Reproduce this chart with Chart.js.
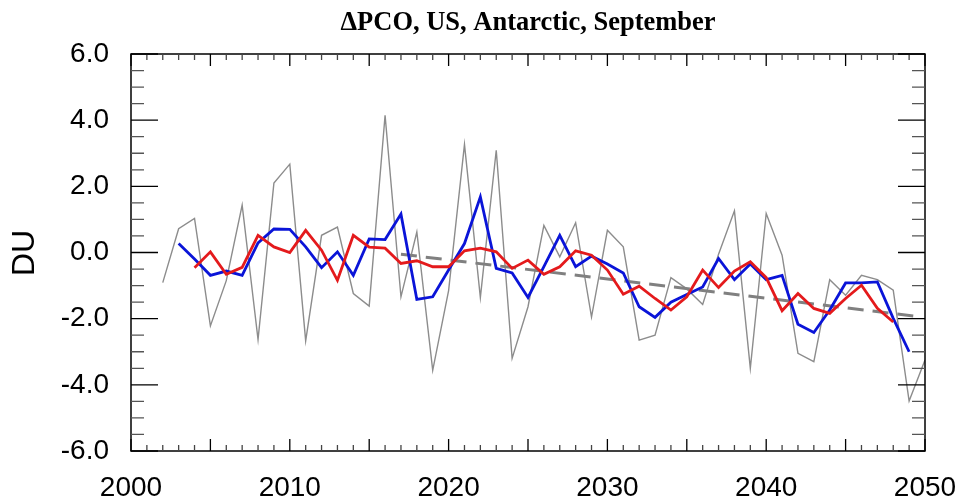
<!DOCTYPE html>
<html>
<head>
<meta charset="utf-8">
<script src="https://cdn.jsdelivr.net/npm/chart.js@4"></script>
<style>
  html, body { margin: 0; padding: 0; background: #fff; }
  #wrap { width: 962px; height: 497px; }
</style>
</head>
<body>
<div id="wrap"><canvas id="grafico"></canvas></div>
<script>
// annual values (gray), 3-year mean (blue), 5-year mean (red), linear trend (dashed)
const anos = [];
for (let a = 2002; a <= 2050; a++) anos.push(a);

const anual = [-0.91, 0.72, 1.03, -2.22, -0.85, 1.43, -2.63, 2.10, 2.67, -2.67,
  0.52, 0.77, -1.24, -1.62, 4.15, -1.34, 0.62, -3.56, -1.15, 3.27,
  -1.36, 3.09, -3.20, -1.64, 0.82, -0.13, 0.90, -1.95, 0.67, 0.17,
  -2.65, -2.50, -0.76, -1.10, -1.57, -0.05, 1.26, -3.50, 1.18, -0.08,
  -3.05, -3.30, -0.82, -1.29, -0.69, -0.82, -1.14, -4.49, -3.25];

const anosMedia3 = anos.slice(1, -1);            // 2003..2049
const media3 = [0.27, -0.20, -0.69, -0.56, -0.69, 0.29, 0.71, 0.70, 0.17, -0.46,
  0.02, -0.69, 0.41, 0.39, 1.16, -1.42, -1.34, -0.53, 0.27, 1.68,
  -0.48, -0.62, -1.36, -0.43, 0.52, -0.43, -0.11, -0.35, -0.62, -1.64,
  -1.96, -1.50, -1.27, -1.04, -0.18, -0.82, -0.35, -0.82, -0.69, -2.17,
  -2.42, -1.74, -0.92, -0.92, -0.89, -1.99, -3.00];

const anosMedia5 = anos.slice(2, -2);            // 2004..2048
const media5 = [-0.46, 0.02, -0.66, -0.45, 0.52, 0.17, 0.00, 0.67, 0.07, -0.84,
  0.52, 0.16, 0.13, -0.33, -0.25, -0.43, -0.43, 0.05, 0.13, 0.02,
  -0.48, -0.23, -0.66, -0.43, 0.05, -0.08, -0.53, -1.26, -1.02, -1.39,
  -1.74, -1.34, -0.53, -1.06, -0.56, -0.28, -0.76, -1.76, -1.24, -1.69,
  -1.84, -1.39, -0.99, -1.69, -2.10];

const anosTendencia = [2017, 2049.3];
const tendencia = [-0.05, -1.92];

const xTicks = [2000, 2010, 2020, 2030, 2040, 2050];
const yTicks = [-6, -4, -2, 0, 2, 4, 6];

function pontos(xs, ys) {
  return xs.map((x, i) => ({ x: x, y: ys[i] }));
}

// frame, inward ticks, title and axis label
const molduraPlugin = {
  id: 'moldura',
  afterDraw(chart) {
    const { ctx, chartArea: a, scales } = chart;
    const sx = scales.x, sy = scales.y;
    ctx.save();
    ctx.strokeStyle = '#000';
    ctx.lineWidth = 1.5;
    ctx.strokeRect(a.left, a.top, a.right - a.left, a.bottom - a.top);

    ctx.lineWidth = 1.3;
    for (let ano = 2000; ano <= 2050; ano++) {
      const px = sx.getPixelForValue(ano);
      const len = ano % 5 === 0 ? 12 : 6;
      ctx.strokeStyle = ano % 5 === 0 ? '#000' : '#444';
      ctx.beginPath();
      ctx.moveTo(px, a.bottom); ctx.lineTo(px, a.bottom - len);
      ctx.moveTo(px, a.top); ctx.lineTo(px, a.top + len);
      ctx.stroke();
    }
    for (let v = -6; v <= 6.001; v += 0.5) {
      const py = sy.getPixelForValue(v);
      const major = Math.abs(v % 2) < 0.001;
      const len = major ? 27 : 13;
      ctx.strokeStyle = major ? '#000' : '#555';
      ctx.beginPath();
      ctx.moveTo(a.left, py); ctx.lineTo(a.left + len, py);
      ctx.moveTo(a.right, py); ctx.lineTo(a.right - len, py);
      ctx.stroke();
    }

    // title
    const titulo = 'ΔPCO, US, Antarctic, September';
    ctx.fillStyle = '#000';
    ctx.font = 'bold 28px "Liberation Serif", "Times New Roman", serif';
    const w = ctx.measureText(titulo).width;
    const escala = 375 / w;
    ctx.translate((a.left + a.right) / 2, 30);
    ctx.scale(escala, 1);
    ctx.textAlign = 'center';
    ctx.textBaseline = 'alphabetic';
    ctx.fillText(titulo, 0, 0);
    ctx.restore();

    // y axis label
    ctx.save();
    ctx.fillStyle = '#000';
    ctx.font = '32px "Liberation Sans", Arial, sans-serif';
    ctx.translate(25, 253);
    ctx.rotate(-Math.PI / 2);
    ctx.textAlign = 'center';
    ctx.textBaseline = 'middle';
    ctx.fillText('DU', 0, 0);
    ctx.restore();
  }
};

const fonteTicks = { family: '"Liberation Sans", Arial, sans-serif', size: 28 };

new Chart(document.getElementById('grafico'), {
  type: 'line',
  data: {
    datasets: [
      { data: pontos(anosMedia5, media5), borderColor: '#e41a1c', borderWidth: 2.8, order: 0 },
      { data: pontos(anosMedia3, media3), borderColor: '#0a14d8', borderWidth: 2.8, order: 1 },
      { data: pontos(anosTendencia, tendencia), borderColor: '#808080', borderWidth: 3, borderDash: [16, 9], order: 2 },
      { data: pontos(anos, anual), borderColor: '#8c8c8c', borderWidth: 1.4, order: 3 }
    ]
  },
  options: {
    responsive: true,
    maintainAspectRatio: false,
    animation: false,
    layout: { padding: { top: 54, right: 37, left: 0, bottom: 0 } },
    elements: { point: { radius: 0 }, line: { tension: 0, borderJoinStyle: 'miter' } },
    plugins: { legend: { display: false }, tooltip: { enabled: false } },
    scales: {
      x: {
        type: 'linear',
        min: 2000, max: 2050,
        grid: { display: false },
        border: { display: false },
        afterFit(scale) {
          scale.height = 46;
          scale.paddingLeft = 0;
          scale.paddingRight = 0;
        },
        afterBuildTicks(scale) { scale.ticks = xTicks.map(v => ({ value: v })); },
        ticks: { color: '#000', font: fonteTicks, padding: 12, maxRotation: 0, autoSkip: false,
          callback: v => String(v) }
      },
      y: {
        min: -6, max: 6,
        grid: { display: false },
        border: { display: false },
        afterFit(scale) {
          scale.width = 131;
          scale.paddingTop = 0;
          scale.paddingBottom = 0;
        },
        afterBuildTicks(scale) { scale.ticks = yTicks.map(v => ({ value: v })); },
        ticks: { color: '#000', font: fonteTicks, padding: 14,
          callback: v => Number(v).toFixed(1) }
      }
    }
  },
  plugins: [molduraPlugin]
});
</script>
</body>
</html>
